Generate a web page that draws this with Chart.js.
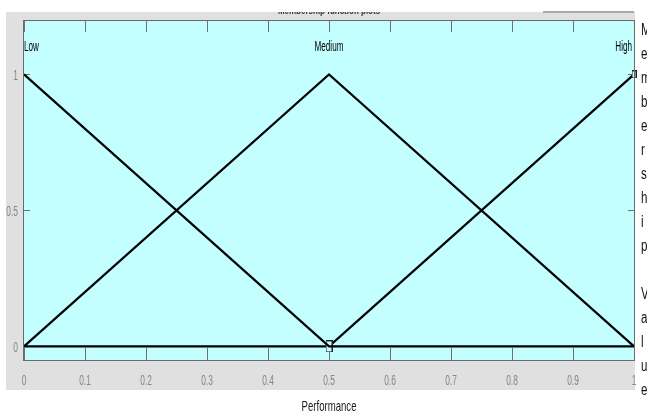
<!DOCTYPE html>
<html>
<head>
<meta charset="utf-8">
<script src="https://cdn.jsdelivr.net/npm/chart.js@4.4.1/dist/chart.umd.min.js"></script>
<style>
  html, body { margin: 0; padding: 0; background: #ffffff; }
  #wrap { width: 647px; height: 416px; position: relative; }
</style>
</head>
<body>
<div id="wrap"><canvas id="mfChart" width="647" height="416"></canvas></div>
<script>
"use strict";

// membership functions (triangles over the same breakpoints)
var mfNames = ['Low', 'Medium', 'High'];
var mfX = [0, 0.5, 1];
var lowY = [1, 0, 0];
var mediumY = [0, 1, 0];
var highY = [0, 0, 1];

var xTicks = [0, 0.1, 0.2, 0.3, 0.4, 0.5, 0.6, 0.7, 0.8, 0.9, 1];
var yTicks = [0, 0.5, 1];
var xTitle = 'Performance';
var yTitle = 'Membership Value';
var plotTitle = 'Membership function plots';

var series = [lowY, mediumY, highY];
var family = "'Liberation Sans', Arial, sans-serif";

function toPoints(ys) {
    var pts = [];
    for (var i = 0; i < mfX.length; i++) {
        pts.push({x: mfX[i], y: ys[i]});
    }
    return pts;
}

// the screenshot text is squeezed sideways, so draw it narrowed
function narrowText(ctx, text, x, y, align, sx) {
    ctx.save();
    ctx.translate(x, y);
    ctx.scale(sx, 1);
    ctx.textAlign = align;
    ctx.fillText(text, 0, 0);
    ctx.restore();
}

// small outlined handles like the ones on the selected mf
function makeHandle(w, h) {
    var c = document.createElement('canvas');
    c.width = w;
    c.height = h;
    var g = c.getContext('2d');
    g.fillStyle = '#c4ffff';
    g.fillRect(0, 0, w, h);
    g.strokeStyle = '#222222';
    g.lineWidth = 1;
    g.strokeRect(0.5, 0.5, w - 1, h - 1);
    return c;
}
var midHandle = makeHandle(7, 12);
var endHandle = makeHandle(5, 8);

var matlabLook = {
    id: 'matlabLook',
    beforeDraw: function(chart) {
        var ctx = chart.ctx;
        var a = chart.chartArea;
        ctx.save();
        ctx.fillStyle = '#ffffff';
        ctx.fillRect(0, 0, chart.width, chart.height);
        ctx.fillStyle = '#e0e0e0';
        ctx.fillRect(6, 12, a.right - 6 + 1, 390 - 12);
        ctx.strokeStyle = '#a8a8a8';
        ctx.lineWidth = 2;
        ctx.beginPath();
        ctx.moveTo(543, 12);
        ctx.lineTo(a.right, 12);
        ctx.stroke();
        ctx.fillStyle = '#c4ffff';
        ctx.fillRect(a.left, a.top, a.right - a.left, a.bottom - a.top);

        // title, cut by the top of the panel
        ctx.beginPath();
        ctx.rect(0, 12, chart.width, 20);
        ctx.clip();
        ctx.fillStyle = '#333333';
        ctx.font = "bold 10px " + family;
        ctx.textBaseline = 'middle';
        narrowText(ctx, plotTitle, (a.left + a.right) / 2, 11, 'center', 0.8);
        ctx.restore();

        // inner tick marks
        var xs = chart.scales.x, ys = chart.scales.y;
        ctx.save();
        ctx.strokeStyle = '#707070';
        ctx.lineWidth = 1;
        ctx.beginPath();
        for (var i = 0; i < xTicks.length; i++) {
            var px = Math.round(xs.getPixelForValue(xTicks[i])) + 0.5;
            ctx.moveTo(px, a.top);
            ctx.lineTo(px, a.top + 12);
            ctx.moveTo(px, a.bottom);
            ctx.lineTo(px, a.bottom - 12);
        }
        for (var j = 0; j < yTicks.length; j++) {
            var py = Math.round(ys.getPixelForValue(yTicks[j])) + 0.5;
            ctx.moveTo(a.left, py);
            ctx.lineTo(a.left + 6, py);
            ctx.moveTo(a.right, py);
            ctx.lineTo(a.right - 6, py);
        }
        ctx.stroke();

        // tick labels, placed by the scales
        ctx.fillStyle = '#858585';
        ctx.font = "15px " + family;
        ctx.textBaseline = 'middle';
        for (var m = 0; m < xTicks.length; m++) {
            narrowText(ctx, String(xTicks[m]), xs.getPixelForValue(xTicks[m]), a.bottom + 21, 'center', 0.56);
        }
        for (var n = 0; n < yTicks.length; n++) {
            narrowText(ctx, String(yTicks[n]), a.left - 6, ys.getPixelForValue(yTicks[n]) + 1, 'right', 0.56);
        }

        // x title below the panel
        ctx.fillStyle = '#1a1a1a';
        ctx.font = "15px " + family;
        narrowText(ctx, xTitle, (a.left + a.right) / 2, 407, 'center', 0.64);
        ctx.restore();
    },
    afterDatasetsDraw: function(chart) {
        var ctx = chart.ctx;
        var a = chart.chartArea;
        var xs = chart.scales.x, ys = chart.scales.y;
        ctx.save();
        ctx.strokeStyle = '#6a6a6a';
        ctx.lineWidth = 1;
        ctx.strokeRect(a.left - 0.5, a.top + 0.5, a.right - a.left + 1, a.bottom - a.top);

        // mf names above each peak
        ctx.fillStyle = '#000000';
        ctx.font = "14px " + family;
        ctx.textBaseline = 'middle';
        var aligns = ['left', 'center', 'right'];
        for (var i = 0; i < mfNames.length; i++) {
            var ysr = series[i];
            var peak = mfX[ysr.indexOf(Math.max.apply(null, ysr))];
            narrowText(ctx, mfNames[i], xs.getPixelForValue(peak) + (i === 2 ? -2 : 0), ys.getPixelForValue(1.1), aligns[i], 0.58);
        }

        // y title, one letter per line on the right
        ctx.font = "16px " + family;
        ctx.fillStyle = '#111111';
        var letters = yTitle.split('');
        for (var k = 0; k < letters.length; k++) {
            narrowText(ctx, letters[k], 641, 31 + k * 24, 'left', 0.72);
        }
        ctx.restore();
    }
};

var ctx = document.getElementById('mfChart').getContext('2d');
var myChart = new Chart(ctx, {
    type: 'line',
    data: {
        datasets: mfNames.map(function(name, i) {
            return {
                label: name,
                data: toPoints(series[i]),
                borderColor: '#000000',
                borderWidth: 2.2,
                fill: false,
                tension: 0,
                clip: 4,
                pointStyle: function(c) {
                    return c.dataIndex === 1 ? midHandle : endHandle;
                },
                pointRadius: function(c) {
                    // handles only on the last mf
                    return (i === 2 && c.dataIndex > 0) ? 5 : 0;
                }
            };
        })
    },
    plugins: [matlabLook],
    options: {
        responsive: false,
        devicePixelRatio: 1,
        animation: false,
        layout: {
            padding: {top: 20, right: 13, left: 0, bottom: 0}
        },
        plugins: {
            legend: {display: false},
            tooltip: {enabled: false}
        },
        scales: {
            x: {
                type: 'linear',
                min: 0,
                max: 1,
                grid: {display: false, drawTicks: false},
                border: {display: false},
                ticks: {display: false},
                afterBuildTicks: function(scale) {
                    scale.ticks = xTicks.map(function(v) { return {value: v}; });
                },
                afterFit: function(scale) { scale.height = 56; }
            },
            y: {
                type: 'linear',
                min: -0.05,
                max: 1.2,
                grid: {display: false, drawTicks: false},
                border: {display: false},
                ticks: {display: false},
                afterBuildTicks: function(scale) {
                    scale.ticks = yTicks.map(function(v) { return {value: v}; });
                },
                afterFit: function(scale) { scale.width = 24; }
            }
        }
    }
});
</script>
</body>
</html>
